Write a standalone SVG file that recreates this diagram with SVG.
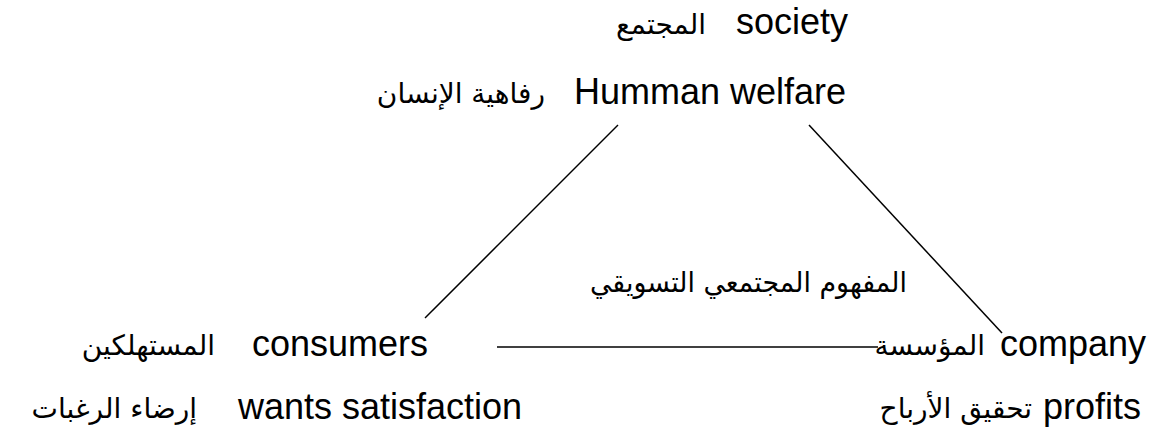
<svg xmlns="http://www.w3.org/2000/svg" width="1172" height="432" viewBox="0 0 1172 432">
  <style>
    .t { font-family: "Liberation Sans", Arial, sans-serif; font-size: 36px; fill: #000; }
    .ar { font-family: "DejaVu Sans", "Liberation Sans", sans-serif; font-size: 28px; fill: #000; }
    .edge { stroke: #000; stroke-width: 1.5; fill: none; }
  </style>
  <rect width="1172" height="432" fill="#fff"/>

  <g id="connectors">
    <line class="edge" x1="618" y1="125" x2="425" y2="318"/>
    <line class="edge" x1="809" y1="125" x2="1002" y2="333"/>
    <line class="edge" x1="497" y1="347" x2="878" y2="347"/>
  </g>

  <g id="society">
    <text class="ar" x="706" y="34" text-anchor="end">المجتمع</text>
    <text class="t" x="736" y="34">society</text>
    <text class="ar" x="545" y="103" text-anchor="end">رفاهية الإنسان</text>
    <text class="t" x="574" y="104">Humman welfare</text>
  </g>

  <g id="concept">
    <text class="ar" x="907" y="292" text-anchor="end" textLength="317" lengthAdjust="spacingAndGlyphs">المفهوم المجتمعي التسويقي</text>
  </g>

  <g id="consumers">
    <text class="ar" x="215" y="355" text-anchor="end">المستهلكين</text>
    <text class="t" x="252" y="356">consumers</text>
    <text class="ar" x="197" y="418" text-anchor="end">إرضاء الرغبات</text>
    <text class="t" x="238" y="419">wants satisfaction</text>
  </g>

  <g id="company">
    <text class="ar" x="985" y="355" text-anchor="end">المؤسسة</text>
    <text class="t" x="1000" y="356">company</text>
    <text class="ar" x="1032" y="418" text-anchor="end">تحقيق الأرباح</text>
    <text class="t" x="1043" y="419">profits</text>
  </g>
</svg>
